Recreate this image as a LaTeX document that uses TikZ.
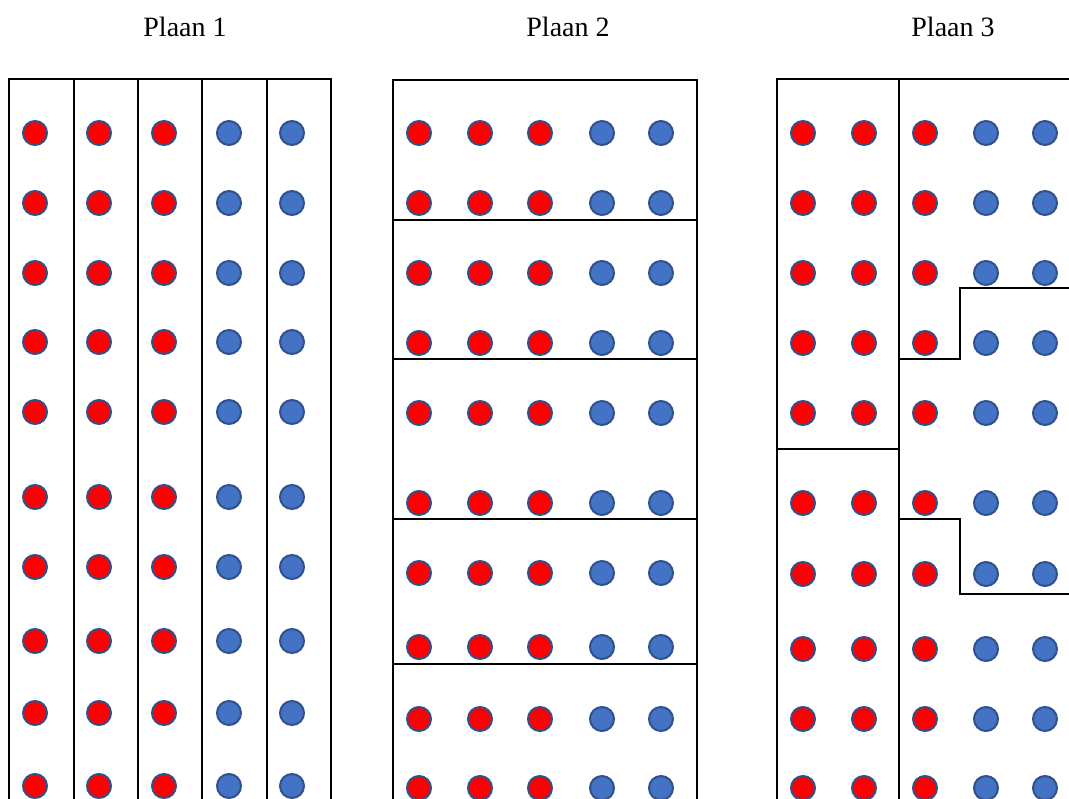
\documentclass[tikz,border=0pt]{standalone}
\usepackage{fontspec}
\setmainfont{Liberation Serif}
\definecolor{dotred}{HTML}{FF0000}
\definecolor{dotblue}{HTML}{4472C4}
\definecolor{dotrim}{HTML}{2F528F}
\begin{document}
\begin{tikzpicture}[x=1pt,y=-1pt,
  wall/.style={line width=2pt, black, line cap=rect},
  reddot/.style={fill=dotred, draw=dotrim, line width=2pt},
  bluedot/.style={fill=dotblue, draw=dotrim, line width=2pt},
  plantitle/.style={font=\fontsize{28}{32}\selectfont, anchor=base, inner sep=0pt}]
\useasboundingbox (0,0) rectangle (1069,799);

% titles
\node[plantitle] (t1) at (185,37) {Plaan 1};
\node[plantitle] (t2) at (568,37) {Plaan 2};
\node[plantitle] (t3) at (953,37) {Plaan 3};

% plan 1: five vertical strips
\draw[wall] (9,805) -- (9,79) -- (331,79) -- (331,805);
\foreach \x in {74,138,202,267} \draw[wall] (\x,79) -- (\x,805);
\foreach \y in {133,203,273,342,412,497,567,641,713,786} {
  \foreach \x in {35,99,164} \draw[reddot] (\x,\y) circle (12);
  \foreach \x in {229,292} \draw[bluedot] (\x,\y) circle (12);
}

% plan 2: horizontal bands
\draw[wall] (393,805) -- (393,80) -- (697,80) -- (697,805);
\foreach \y in {220,359,519,664} \draw[wall] (393,\y) -- (697,\y);
\foreach \y in {133,203,273,343,413,503,573,647,719,788} {
  \foreach \x in {419,480,540} \draw[reddot] (\x,\y) circle (12);
  \foreach \x in {602,661} \draw[bluedot] (\x,\y) circle (12);
}

% plan 3: irregular plots
\draw[wall] (777,805) -- (777,79) -- (1075,79);
\draw[wall] (899,79) -- (899,805);
\draw[wall] (777,449) -- (899,449);
\draw[wall] (899,359) -- (960,359) -- (960,288) -- (1075,288);
\draw[wall] (899,519) -- (960,519) -- (960,594) -- (1075,594);
\foreach \y in {133,203,273,343,413,503,574,649,719,788} {
  \foreach \x in {803,864,925} \draw[reddot] (\x,\y) circle (12);
  \foreach \x in {986,1045} \draw[bluedot] (\x,\y) circle (12);
}
\end{tikzpicture}
\end{document}
